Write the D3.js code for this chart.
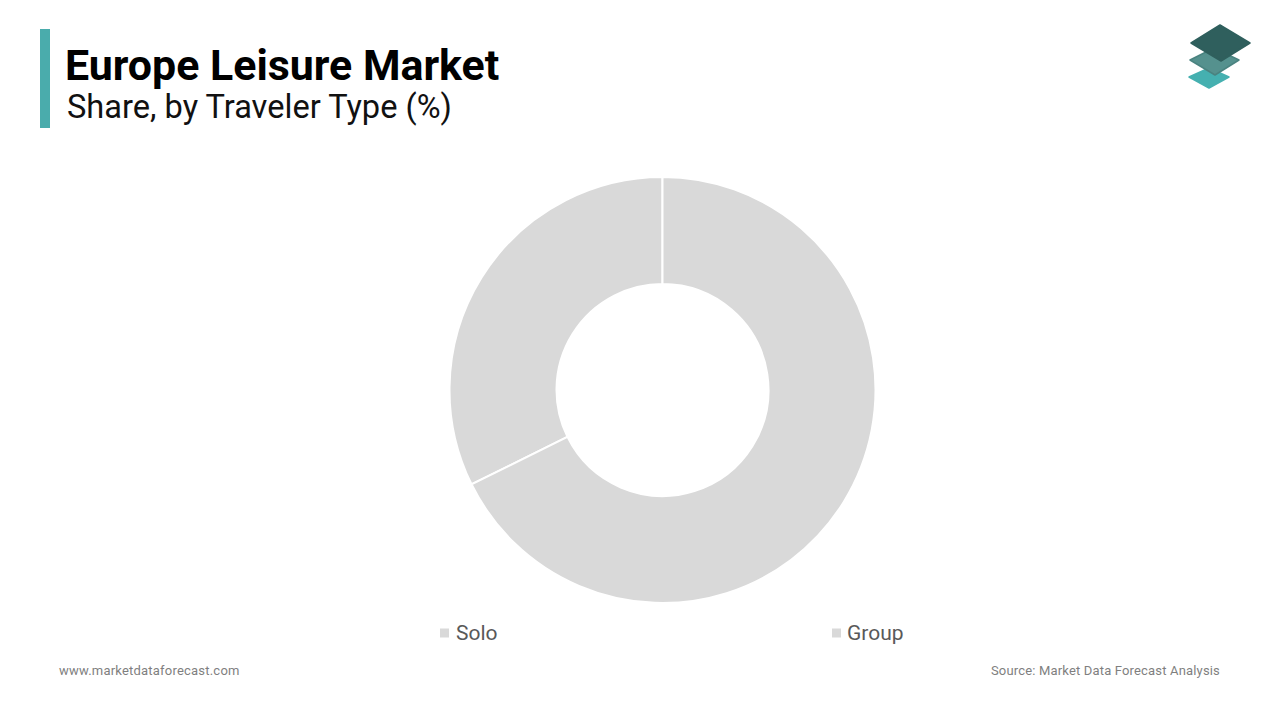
<!DOCTYPE html>
<html><head><meta charset="utf-8">
<style>html,body{margin:0;padding:0;background:#fff}svg{display:block}text{font-family:Roboto,sans-serif}</style>
<script src="https://cdn.jsdelivr.net/npm/d3@7"></script></head><body>
<svg id="c" width="1280" height="720"></svg>
<script>
const categories = ["Solo", "Group"];
const shares = [32.3, 67.7];
const sliceColors = ["#d9d9d9", "#d9d9d9"];
const titleText = "Europe Leisure Market";
const subtitleText = "Share, by Traveler Type (%)";
const footerLeft = "www.marketdataforecast.com";
const footerRight = "Source: Market Data Forecast Analysis";

const svg = d3.select("#c");
svg.append("rect").attr("x",40).attr("y",29).attr("width",10).attr("height",99).attr("fill","#4aacac");
svg.append("text").attr("x",65).attr("y",80).attr("font-size",42.9).attr("font-weight",700).attr("fill","#000").text(titleText);
svg.append("text").attr("x",67).attr("y",118).attr("font-size",32.6).attr("fill","#111").text(subtitleText);

const rows = categories.map((c,i)=>({c, v:shares[i], col:sliceColors[i]}));
const pie = d3.pie().value(d=>d.v).sort((a,b)=>b.v-a.v);
const arc = d3.arc().innerRadius(106).outerRadius(213);
svg.append("g").attr("transform","translate(662.5,390)")
  .selectAll("path").data(pie(rows)).join("path")
  .attr("d",arc).attr("fill",d=>d.data.col).attr("stroke","#fff").attr("stroke-width",2);

const legendX = d3.scalePoint().domain(categories).range([440,832]);
const lg = svg.append("g").selectAll("g").data(rows).join("g").attr("transform",d=>`translate(${legendX(d.c)},633)`);
lg.append("rect").attr("x",0).attr("y",-4.5).attr("width",9).attr("height",9).attr("fill",d=>d.col);
lg.append("text").attr("x",(d,i)=>i?15:16).attr("y",7).attr("font-size",21).attr("fill","#595959").text(d=>d.c);

svg.append("text").attr("x",59).attr("y",675).attr("font-size",13).attr("fill","#7f7f7f").attr("letter-spacing",0.21).text(footerLeft);
svg.append("text").attr("x",1220).attr("y",675).attr("text-anchor","end").attr("font-size",13).attr("fill","#7f7f7f").attr("letter-spacing",0.17).text(footerRight);

const logo = svg.append("g").attr("stroke-linejoin","round");
const layers = [
 {p:"1189,77 1209,68 1229,77 1209,88", f:"#45b0b0", s:"#45b0b0"},
 {p:"1190,60 1214,48 1239,60 1215,75", f:"#55918e", s:"#4a8380"},
 {p:"1191,43 1220,25 1250,43 1221,61", f:"#2f5f5d", s:"#2f5f5d"}
];
logo.selectAll("polygon").data(layers).join("polygon").attr("points",d=>d.p).attr("fill",d=>d.f).attr("stroke",d=>d.s).attr("stroke-width",1.5);
</script></body></html>
